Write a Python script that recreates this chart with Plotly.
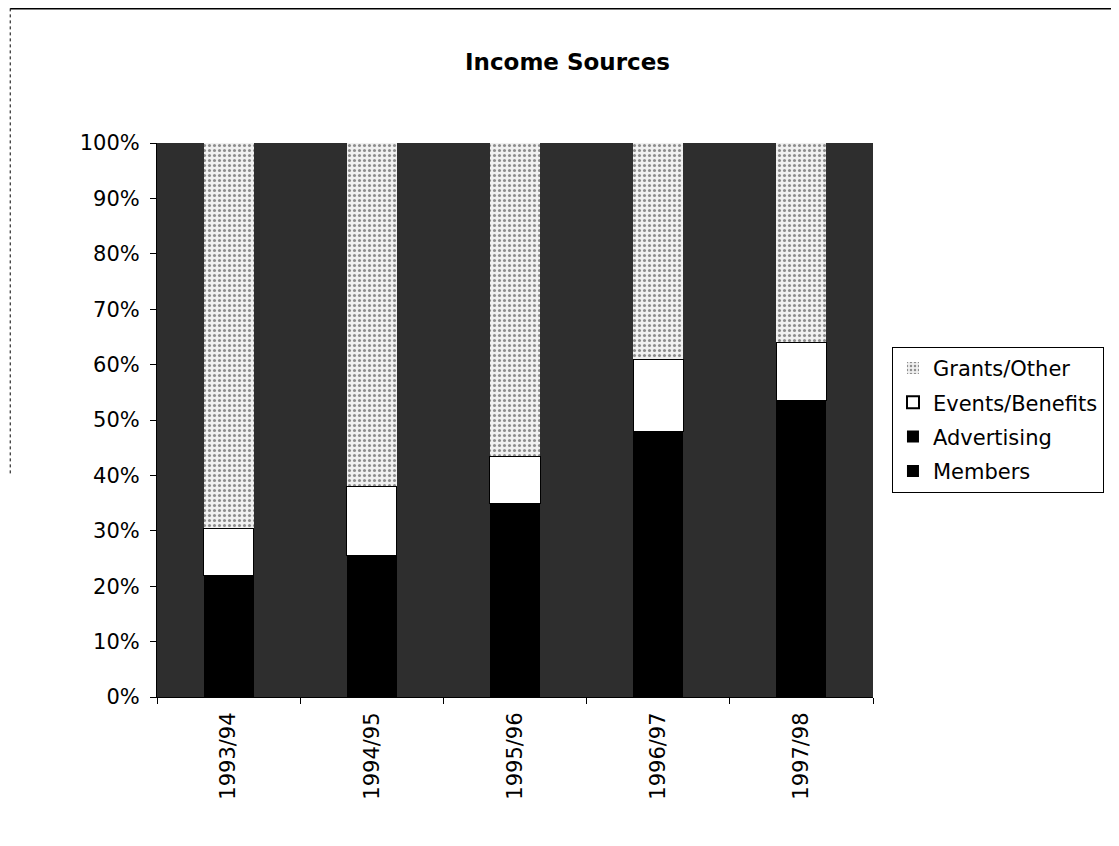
import plotly.graph_objects as go

categories = ["1993/94", "1994/95", "1995/96", "1996/97", "1997/98"]
members = [16, 18, 25, 35, 40]
advertising = [6, 7.5, 10, 13, 13.5]
events = [8.5, 12.5, 8.5, 13, 10.5]
grants = [69.5, 62, 56.5, 39, 36]
y_ticks = [0, 10, 20, 30, 40, 50, 60, 70, 80, 90, 100]
y_tick_labels = ["0%", "10%", "20%", "30%", "40%", "50%", "60%", "70%", "80%", "90%", "100%"]

font = "DejaVu Sans, Liberation Sans, Arial, sans-serif"

fig = go.Figure()
fig.add_trace(go.Bar(name="Members", x=categories, y=members, legendgroup="m", legendrank=4,
                     marker=dict(color="#000000", line=dict(width=0))))
fig.add_trace(go.Bar(name="Advertising", x=categories, y=advertising, legendgroup="a", legendrank=3,
                     marker=dict(color="#000000", line=dict(width=0))))
fig.add_trace(go.Bar(name="Events/Benefits", x=categories, y=events, legendgroup="e", legendrank=2,
                     marker=dict(color="#ffffff", line=dict(color="#000000", width=1))))
fig.add_trace(go.Bar(name="Grants/Other", x=categories, y=grants, legendgroup="g", legendrank=1,
                     marker=dict(color="#eeeeee", line=dict(width=0),
                                 pattern=dict(shape=".", fgcolor="#2a2a2a",
                                              bgcolor="#f0f0f0", size=5, solidity=0.3))))

fig.update_layout(
    width=1119, height=846,
    barmode="stack", bargap=0.65,
    paper_bgcolor="#ffffff", plot_bgcolor="#2e2e2e",
    margin=dict(l=149, r=254, t=135, b=157),
    font=dict(family=font, size=20, color="#000000"),
    title=dict(text="<b>Income Sources</b>", x=0.5, xanchor="center",
               y=1 - 54/846, yanchor="middle", yref="container",
               font=dict(family=font, size=23, color="#000000")),
    legend=dict(x=1.0265, y=0.632, xanchor="left", yanchor="top",
                traceorder="grouped", bordercolor="#000000", borderwidth=1,
                bgcolor="#ffffff", font=dict(family=font, size=21, color="#000000"),
                itemsizing="constant", tracegroupgap=4, itemwidth=30),
    showlegend=True,
    shapes=[
        dict(type="line", xref="paper", yref="paper", x0=-0.205, x1=1.343,
             y0=1.243, y1=1.243, line=dict(color="#000000", width=2)),
        dict(type="line", xref="paper", yref="paper", x0=-0.205, x1=-0.205,
             y0=1.243, y1=0.4, line=dict(color="#000000", width=1, dash="dot")),
    ],
)
fig.update_yaxes(range=[0, 100], tickvals=y_ticks, ticktext=y_tick_labels,
                 showgrid=False, showline=True, linecolor="#000000", linewidth=1,
                 ticks="outside", ticklen=6, tickcolor="#000000", ticklabelstandoff=6,
                 tickfont=dict(family=font, size=21, color="#000000"), zeroline=False)
fig.update_xaxes(tickangle=-90, showline=True, linecolor="#000000", linewidth=1,
                 ticks="outside", ticklen=6, tickcolor="#000000", tickson="boundaries",
                 ticklabelstandoff=6,
                 tickfont=dict(family=font, size=21, color="#000000"), showgrid=False)

fig.write_html("out.html")
